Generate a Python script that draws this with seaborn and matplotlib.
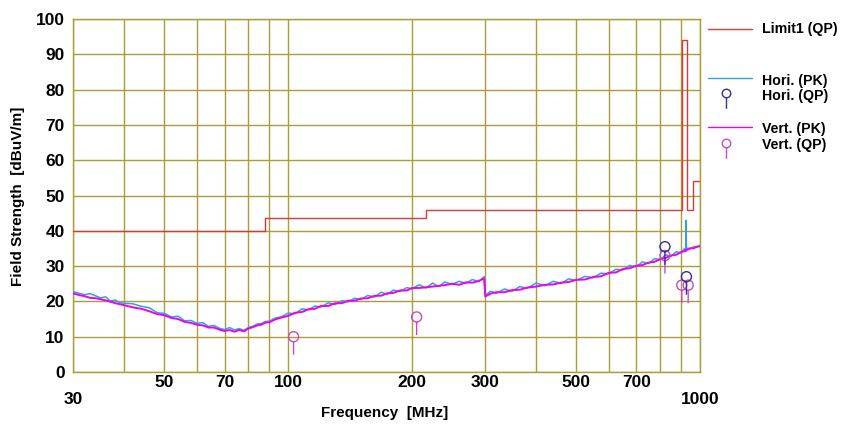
import numpy as np
import pandas as pd
import matplotlib
matplotlib.use("Agg")
import matplotlib.pyplot as plt
from matplotlib.path import Path
from matplotlib.lines import Line2D
import seaborn as sns

# ---------------- data ----------------
trace_freq = [30, 31, 32, 33, 34, 35, 36, 37, 38, 39, 40, 42, 44, 46, 48, 50, 52, 54, 56, 58,
              60, 62, 64, 66, 68, 70, 72, 74, 76, 78, 80, 82, 84, 86, 88, 90, 93, 96, 100, 104,
              108, 112, 116, 120, 125, 130, 135, 140, 145, 150, 156, 162, 168, 174, 180, 187, 194, 200, 208, 216,
              224, 232, 240, 250, 260, 270, 280, 290, 299, 301, 310, 320, 335, 350, 365, 380, 400, 420, 440, 460,
              480, 500, 525, 550, 575, 600, 625, 650, 675, 700, 725, 750, 775, 800, 825, 850, 875, 900, 915, 923,
              925, 927, 935, 950, 965, 980, 1000]

hori_pk = [22.8, 22.3, 21.9, 22.2, 21.6, 21.0, 21.3, 20.1, 20.4, 19.6, 19.5, 19.3, 18.6, 18.2, 16.8, 16.6, 15.6, 15.8, 14.5, 14.6,
           13.8, 14.0, 12.9, 13.2, 12.4, 12.0, 12.6, 11.9, 12.3, 11.8, 12.6, 12.9, 13.6, 13.7, 14.3, 14.4, 15.3, 15.6, 16.7, 16.5,
           17.9, 17.6, 18.7, 18.4, 19.6, 19.1, 20.2, 19.9, 20.9, 20.5, 21.7, 21.2, 22.6, 22.0, 23.2, 22.8, 23.9, 23.6, 24.7, 23.8,
           25.2, 24.2, 25.5, 24.8, 25.7, 25.1, 26.2, 25.6, 27.0, 21.7, 22.9, 22.3, 23.5, 22.9, 24.2, 23.7, 25.2, 24.4, 25.7, 25.1,
           26.4, 25.9, 27.1, 26.7, 28.0, 27.8, 29.1, 28.9, 30.2, 29.8, 31.2, 30.7, 32.1, 31.8, 33.2, 32.7, 34.1, 33.7, 34.9, 34.3,
           43.0, 34.5, 35.1, 34.9, 35.5, 35.3, 35.9]

vert_pk = [22.3, 21.8, 21.5, 21.0, 20.9, 20.6, 20.3, 19.9, 19.5, 19.2, 18.9, 18.3, 17.9, 17.2, 16.4, 16.1, 15.3, 15.0, 14.2, 13.9,
           13.4, 13.2, 12.6, 12.6, 12.0, 11.6, 11.9, 11.4, 11.9, 11.5, 12.3, 12.7, 13.2, 13.4, 14.0, 14.1, 14.9, 15.4, 15.9, 16.8,
           17.0, 17.8, 17.9, 18.7, 18.7, 19.5, 19.5, 20.2, 20.2, 20.8, 20.9, 21.6, 21.6, 22.3, 22.4, 23.1, 23.1, 23.8, 23.8, 24.0,
           24.2, 24.4, 24.6, 25.0, 24.7, 25.4, 25.3, 25.8, 26.5, 21.4, 22.2, 22.6, 22.6, 23.2, 23.3, 23.9, 24.2, 24.7, 24.8, 25.3,
           25.5, 26.1, 26.2, 26.9, 27.1, 28.1, 28.2, 29.2, 29.4, 30.1, 30.3, 31.0, 31.2, 32.0, 32.3, 33.0, 33.2, 34.0, 34.2, 34.5,
           34.3, 34.6, 34.7, 35.1, 35.0, 35.5, 35.6]

limit_freq = [30, 88, 216, 902, 928, 960, 1000]
limit_level = [40.0, 43.5, 46.0, 94.0, 46.0, 54.0, 54.0]

hori_qp_freq = [822, 927]
hori_qp_level = [35.5, 27.0]

vert_qp_freq = [103, 205, 822, 903, 936]
vert_qp_level = [10.0, 15.6, 33.0, 24.6, 24.6]

x_tick_values = [30, 50, 70, 100, 200, 300, 500, 700, 1000]
x_tick_labels = ["\n30", "50", "70", "100", "200", "300", "500", "700", "\n1000"]
x_minor_values = [40, 60, 80, 90, 400, 600, 800, 900]
y_tick_values = [0, 10, 20, 30, 40, 50, 60, 70, 80, 90, 100]

legend_labels = ["Limit1 (QP)", "Hori. (PK)", "Hori. (QP)", "Vert. (PK)", "Vert. (QP)"]

# ---------------- style ----------------
sns.set_style("white")
FONT = ["Liberation Sans", "DejaVu Sans"]
plt.rcParams["font.family"] = FONT
plt.rcParams["font.weight"] = "bold"
plt.rcParams["text.color"] = "black"

GRID = "#A89E3C"
C_LIMIT = "#D83A3A"
C_HPK = "#2AA6D8"
C_VPK = "#F000F0"
C_HQP = "#34309A"
C_VQP = "#C848C8"

# marker: circle with stem below
circ = Path.unit_circle()
stem = Path([[0, -1.0], [0, -3.6]], [Path.MOVETO, Path.LINETO])
qp_marker = Path.make_compound_path(circ, stem)

fig = plt.figure(figsize=(8.45, 4.24), dpi=100)
ax = fig.add_axes([73 / 845, 1 - 372 / 424, 627 / 845, 353 / 424])

trace_df = pd.DataFrame({"freq": trace_freq, "hori": hori_pk, "vert": vert_pk})
limit_df = pd.DataFrame({"freq": limit_freq, "level": limit_level})
hqp_df = pd.DataFrame({"freq": hori_qp_freq, "level": hori_qp_level})
vqp_df = pd.DataFrame({"freq": vert_qp_freq, "level": vert_qp_level})

sns.lineplot(data=limit_df, x="freq", y="level", ax=ax, color=C_LIMIT, lw=1.0,
             drawstyle="steps-post", estimator=None, sort=False, zorder=3)
sns.lineplot(data=trace_df, x="freq", y="hori", ax=ax, color=C_HPK, lw=1.1,
             estimator=None, sort=False, zorder=4)
sns.lineplot(data=trace_df, x="freq", y="vert", ax=ax, color=C_VPK, lw=1.4,
             estimator=None, sort=False, zorder=5)

MS = 26
sns.scatterplot(data=vqp_df, x="freq", y="level", ax=ax, marker=qp_marker, s=MS ** 2,
                facecolor="none", edgecolor=C_VQP, linewidth=1.0, zorder=6)
sns.scatterplot(data=hqp_df, x="freq", y="level", ax=ax, marker=qp_marker, s=MS ** 2,
                facecolor="none", edgecolor=C_HQP, linewidth=1.0, zorder=7)

ax.set_xscale("log")
ax.set_xlim(30, 1000)
ax.set_ylim(0, 100)
ax.set_xticks(x_tick_values)
ax.set_xticklabels(x_tick_labels)
ax.set_xticks(x_minor_values, minor=True)
ax.set_xticklabels([], minor=True)
ax.set_yticks(y_tick_values)
ax.set_yticklabels([str(v) for v in y_tick_values])
ax.tick_params(axis="both", which="both", length=0, labelsize=12.5, colors="black")
ax.tick_params(axis="x", pad=2)
ax.tick_params(axis="y", pad=6)
for lab in ax.get_xticklabels() + ax.get_yticklabels():
    lab.set_fontweight("bold")
ax.grid(True, which="both", color=GRID, lw=1.0)
ax.set_axisbelow(True)
for sp in ax.spines.values():
    sp.set_color(GRID)
    sp.set_linewidth(1.0)

ax.set_xlabel("")
ax.set_ylabel("")
fig.text(385 / 845, 1 - 413 / 424, "Frequency  [MHz]", ha="center", va="center",
         fontsize=11, fontweight="bold", color="black")
fig.text(18 / 845, 1 - 196 / 424, "Field Strength  [dBuV/m]", ha="center", va="center",
         rotation=90, fontsize=11, fontweight="bold", color="black")

# ---------------- legend (manual, outside axes) ----------------
def fx(px):
    return px / 845

def fy(py):
    return 1 - py / 424

tf = fig.transFigure
fig.add_artist(Line2D([fx(708), fx(752)], [fy(28.5), fy(28.5)], color=C_LIMIT, lw=1.0, transform=tf))
fig.add_artist(Line2D([fx(708), fx(752)], [fy(78), fy(78)], color=C_HPK, lw=1.0, transform=tf))
fig.add_artist(Line2D([fx(726)], [fy(93)], marker=qp_marker, markersize=22, mfc="none",
                      mec=C_HQP, mew=1.0, ls="none", transform=tf))
fig.add_artist(Line2D([fx(708), fx(752)], [fy(126.5), fy(126.5)], color=C_VPK, lw=1.0, transform=tf))
fig.add_artist(Line2D([fx(726)], [fy(143)], marker=qp_marker, markersize=22, mfc="none",
                      mec=C_VQP, mew=1.0, ls="none", transform=tf))

legend_y = [29.5, 81.5, 96, 129.5, 145]
for lab, yy in zip(legend_labels, legend_y):
    fig.text(fx(762), fy(yy), lab, ha="left", va="center", fontsize=10.2,
             fontweight="bold", color="black")

fig.savefig("out.png", dpi=100)
